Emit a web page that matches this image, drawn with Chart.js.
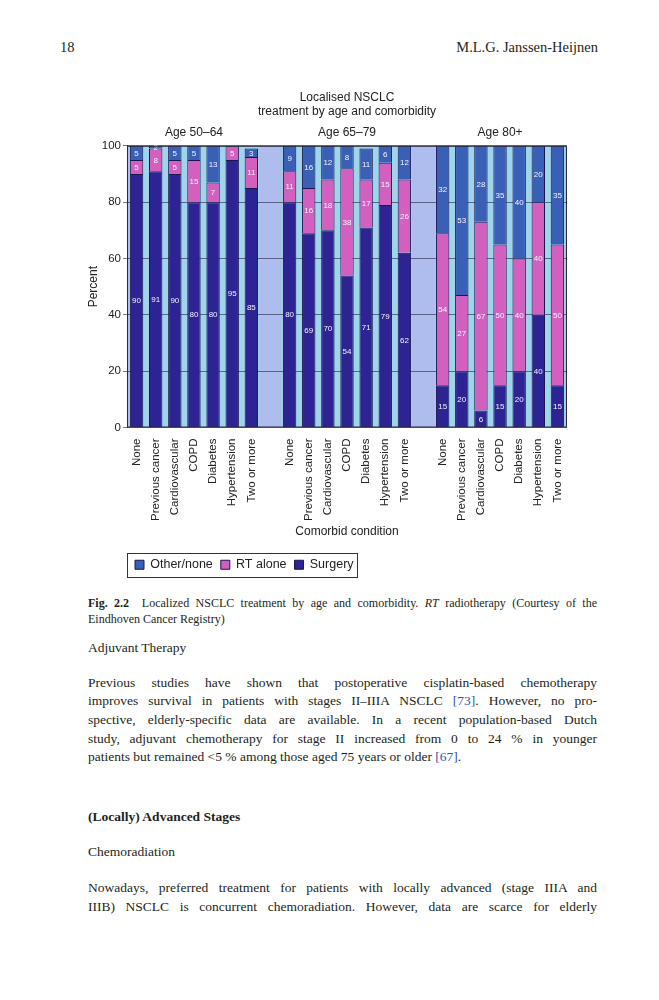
<!DOCTYPE html>
<html>
<head>
<meta charset="utf-8">
<script src="https://cdn.jsdelivr.net/npm/chart.js@4.4.1/dist/chart.umd.min.js"></script>
<style>
  body { margin: 0; background: #fff; }
  #page { position: relative; width: 659px; height: 1000px; overflow: hidden;
          font-family: "Liberation Serif", "Times New Roman", serif; color: #231f20; }
  .ln { position: absolute; left: 88px; width: 509px; font-size: 13.5px; line-height: 16px; white-space: nowrap; }
  .j { white-space: normal; text-align: justify; text-align-last: justify; }
  .cap { font-size: 12px; line-height: 14px; }
  .hd { font-size: 14.5px; }
  .ref { color: #2f56a6; }
  #chartBox { position: absolute; left: 60px; top: 85px; }
</style>
</head>
<body>
<div id="page">
  <div class="ln hd" style="left:60px;top:39px;">18</div>
  <div class="ln hd" style="left:auto;right:61px;width:auto;top:39px;">M.L.G. Janssen-Heijnen</div>

  <div id="chartBox"><canvas id="chart" width="540" height="496"></canvas></div>

  <div class="ln cap j" style="top:596px;"><b>Fig. 2.2</b>&nbsp;&nbsp;Localized NSCLC treatment by age and comorbidity. <i>RT</i> radiotherapy (Courtesy of the</div>
  <div class="ln cap" style="top:612px;">Eindhoven Cancer Registry)</div>

  <div class="ln" style="top:640px;">Adjuvant Therapy</div>

  <div class="ln j" style="top:675px;">Previous studies have shown that postoperative cisplatin-based chemotherapy</div>
  <div class="ln j" style="top:693px;">improves survival in patients with stages II–IIIA NSCLC <span class="ref">[73]</span>. However, no pro-</div>
  <div class="ln j" style="top:712px;">spective, elderly-specific data are available. In a recent population-based Dutch</div>
  <div class="ln j" style="top:731px;">study, adjuvant chemotherapy for stage II increased from 0 to 24 % in younger</div>
  <div class="ln" style="top:749px;">patients but remained &lt;5 % among those aged 75 years or older <span class="ref">[67]</span>.</div>

  <div class="ln" style="top:809px;"><b>(Locally) Advanced Stages</b></div>
  <div class="ln" style="top:844px;">Chemoradiation</div>

  <div class="ln j" style="top:880px;">Nowadays, preferred treatment for patients with locally advanced (stage IIIA and</div>
  <div class="ln j" style="top:899px;">IIIB) NSCLC is concurrent chemoradiation. However, data are scarce for elderly</div>
</div>

<script>
const conditions = ["None", "Previous cancer", "Cardiovascular", "COPD", "Diabetes", "Hypertension", "Two or more"];
const ageGroups = ["Age 50–64", "Age 65–79", "Age 80+"];

// percent per comorbid condition
const surgery5064 = [90, 91, 90, 80, 80, 95, 85];
const rt5064      = [5, 8, 5, 15, 7, 5, 11];
const other5064   = [5, 2, 5, 5, 13, 0, 3];

const surgery6579 = [80, 69, 70, 54, 71, 79, 62];
const rt6579      = [11, 16, 18, 38, 17, 15, 26];
const other6579   = [9, 16, 12, 8, 11, 6, 12];

const surgery80 = [15, 20, 6, 15, 20, 40, 15];
const rt80      = [54, 27, 67, 50, 40, 40, 50];
const other80   = [32, 53, 28, 35, 40, 20, 35];

const yTicks = [0, 20, 40, 60, 80, 100];

// one empty slot between the age groups
const withGaps = (a, b, c, gap) => [...a, gap, ...b, gap, ...c];
const labels = withGaps(conditions, conditions, conditions, "");

Chart.defaults.font.family = '"Liberation Sans", Arial, sans-serif';
Chart.defaults.color = "#222";

const plotBg = {
  id: "plotBg",
  beforeDraw(chart) {
    const { ctx, chartArea: a, scales: { x } } = chart;
    const slot = x.getPixelForValue(1) - x.getPixelForValue(0);
    ctx.save();
    ctx.fillStyle = "#aebcee";
    ctx.fillRect(a.left, a.top, a.width, a.height);
    ctx.fillStyle = "#a0d4ea";
    ageGroups.forEach((g, i) => {
      const l = x.getPixelForValue(i * 8) - slot / 2 + 2;
      const r = x.getPixelForValue(i * 8 + 6) + slot / 2 - 2;
      ctx.fillRect(l, a.top, r - l, a.height);
    });
    ctx.restore();
  },
  afterDraw(chart) {
    const { ctx, chartArea: a, scales: { x } } = chart;
    ctx.save();
    // age group headings
    ctx.font = '12px "Liberation Sans", Arial, sans-serif';
    ctx.fillStyle = "#222";
    ctx.textAlign = "center";
    ctx.textBaseline = "middle";
    ageGroups.forEach((g, i) => {
      const cx = (x.getPixelForValue(i * 8) + x.getPixelForValue(i * 8 + 6)) / 2;
      ctx.fillText(g, cx, a.top - 13);
    });
    // frame round the plot
    ctx.strokeStyle = "#2a2a40";
    ctx.lineWidth = 1;
    ctx.strokeRect(a.left + 0.5, a.top + 0.5, a.width - 1, a.height - 1);
    // box round the legend
    const hb = chart.legend.legendHitBoxes;
    if (hb && hb.length) {
      const l = hb[0].left - 8;
      const last = hb[hb.length - 1];
      const r = last.left + last.width + 3;
      ctx.strokeStyle = "#333";
      ctx.strokeRect(Math.round(l) + 0.5, Math.round(hb[0].top - 6) + 0.5, Math.round(r - l), Math.round(hb[0].height + 11));
    }
    ctx.restore();
  }
};

const segLabels = {
  id: "segLabels",
  afterDatasetsDraw(chart) {
    const ctx = chart.ctx;
    ctx.save();
    ctx.font = '8px "Liberation Sans", Arial, sans-serif';
    ctx.fillStyle = "#f4f2ff";
    ctx.textAlign = "center";
    ctx.textBaseline = "middle";
    chart.data.datasets.forEach((ds, i) => {
      chart.getDatasetMeta(i).data.forEach((bar, j) => {
        const v = ds.data[j];
        if (!v) return;
        const top = Math.max(bar.y, chart.chartArea.top);
        ctx.fillText(String(v), bar.x, (top + bar.base) / 2 + 0.5);
      });
    });
    ctx.restore();
  }
};

new Chart(document.getElementById("chart"), {
  type: "bar",
  data: {
    labels: labels,
    datasets: [
      {
        label: "Surgery",
        data: withGaps(surgery5064, surgery6579, surgery80, null),
        backgroundColor: "#2d2392",
        borderColor: "#1a1650",
        borderWidth: 1
      },
      {
        label: "RT alone",
        data: withGaps(rt5064, rt6579, rt80, null),
        backgroundColor: "#d35fbe",
        borderColor: "#1a1650",
        borderWidth: 1
      },
      {
        label: "Other/none",
        data: withGaps(other5064, other6579, other80, null),
        backgroundColor: "#3a5fb6",
        borderColor: "#1a1650",
        borderWidth: 1
      }
    ]
  },
  options: {
    responsive: false,
    animation: false,
    barPercentage: 0.7,
    categoryPercentage: 1,
    layout: { padding: { left: 22, right: 33, top: 0, bottom: 0 } },
    plugins: {
      title: {
        display: true,
        text: ["Localised NSCLC", "treatment by age and comorbidity"],
        fullSize: false,
        font: { size: 12, weight: "normal", lineHeight: 1.2 },
        color: "#222",
        padding: { top: 5, bottom: 27 }
      },
      legend: {
        position: "bottom",
        align: "start",
        fullSize: false,
        reverse: true,
        labels: { boxWidth: 9, boxHeight: 9, padding: 8, font: { size: 12.5 }, color: "#222" }
      },
      tooltip: { enabled: false }
    },
    scales: {
      x: {
        stacked: true,
        grid: { display: false },
        border: { display: false },
        ticks: { autoSkip: false, minRotation: 90, maxRotation: 90, padding: 3, font: { size: 11.5 }, color: "#222" },
        title: { display: true, text: "Comorbid condition", font: { size: 12 }, color: "#222", padding: { top: 4, bottom: 12 } },
        afterFit(s) { s.height = 123; }
      },
      y: {
        stacked: true,
        min: 0,
        max: 100,
        z: 1,
        afterBuildTicks(s) { s.ticks = yTicks.map(v => ({ value: v })); },
        ticks: { padding: 2, font: { size: 11.5 }, color: "#222" },
        grid: { color: "rgba(35,35,70,0.6)", tickLength: 4, lineWidth: 1 },
        border: { display: true, color: "#2a2a40" },
        title: { display: true, text: "Percent", font: { size: 12 }, color: "#222", padding: { top: 4, bottom: 4 } },
        afterFit(s) { s.width = 45; }
      }
    }
  },
  plugins: [plotBg, segLabels]
});
</script>
</body>
</html>
